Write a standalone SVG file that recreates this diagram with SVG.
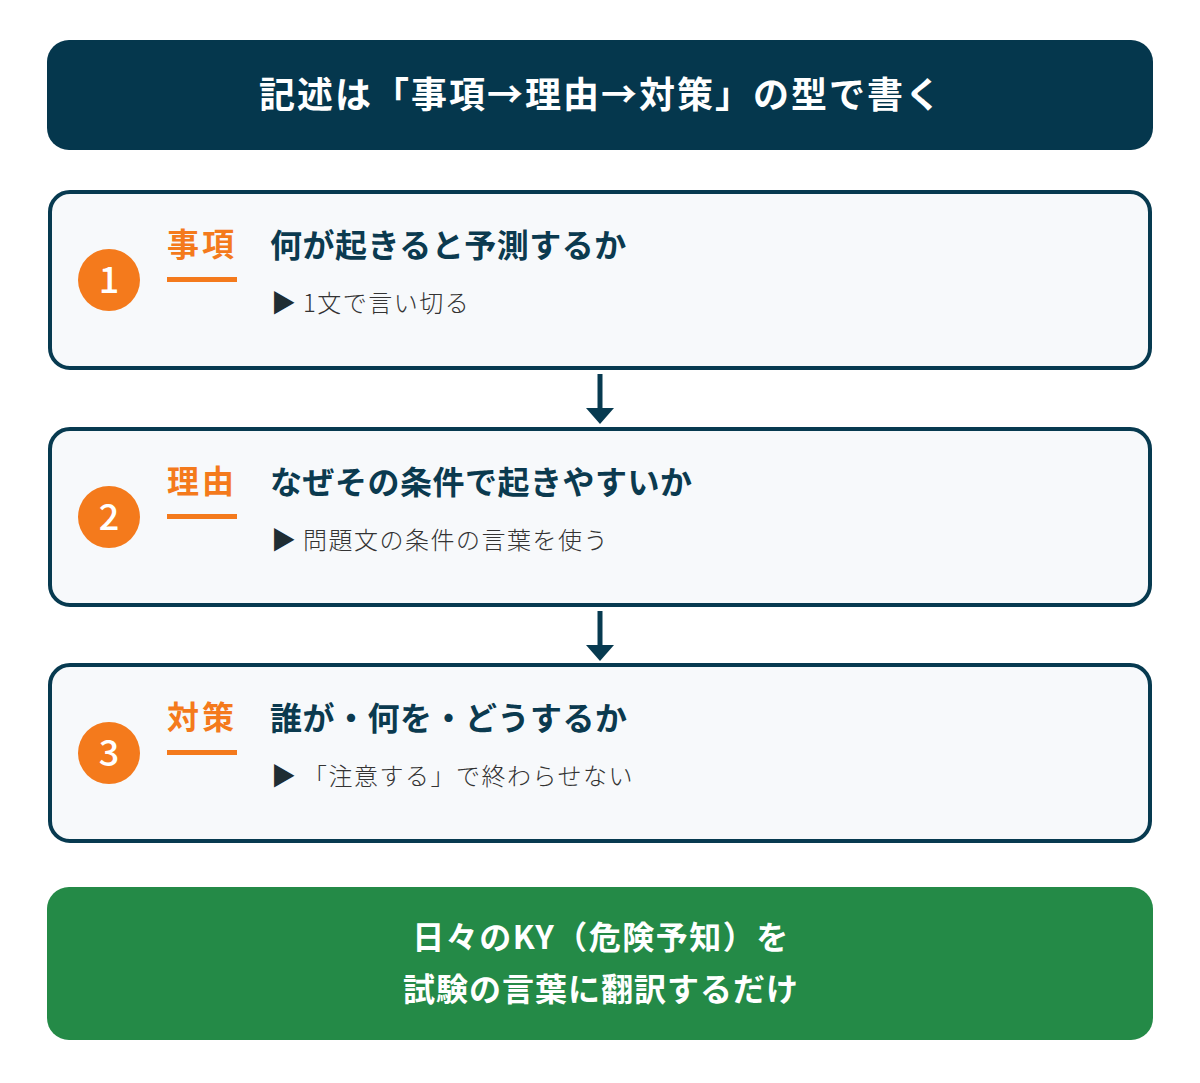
<svg xmlns="http://www.w3.org/2000/svg" width="1200" height="1083" viewBox="0 0 1200 1083">
<style>
text{font-family:"Noto Sans CJK JP","Noto Sans",sans-serif}
.card{fill:#f7f9fb;stroke:#073a50;stroke-width:4}
.num{fill:#f47a1c}
.numt{fill:#fff;font-size:36px;font-weight:500;text-anchor:middle}
.lab{fill:#f47a1c;font-size:32px;font-weight:700;letter-spacing:3px}
.ttl{fill:#0b3a4f;font-size:32px;font-weight:700;letter-spacing:0.5px}
.sub{fill:#333;font-size:24px;letter-spacing:1.5px;font-weight:300}
.tri{font-size:25px;fill:#1f2d33}
.wt{fill:#fff;font-weight:700;text-anchor:middle}
.ah{fill:#073a50}
</style>
<rect width="1200" height="1083" fill="#fff"/>
<g id="header">
<rect x="47" y="40" width="1106" height="110" rx="22" fill="#05374d"/>
<text class="wt" x="601" y="108" font-size="36" letter-spacing="2">記述は「事項→理由→対策」の型で書く</text>
</g>
<g id="step1">
<rect class="card" x="50" y="192" width="1100" height="176" rx="20"/>
<circle class="num" cx="109" cy="280" r="31"/>
<text class="numt" x="109" y="293">1</text>
<text class="lab" x="167" y="256">事項</text>
<rect x="167" y="277" width="70" height="5" fill="#f47a1c"/>
<text class="ttl" x="270" y="257">何が起きると予測するか</text>
<text class="sub" y="312"><tspan class="tri" x="271">▶</tspan><tspan x="303">1文で言い切る</tspan></text>
</g>
<g id="step2">
<rect class="card" x="50" y="429" width="1100" height="176" rx="20"/>
<circle class="num" cx="109" cy="517" r="31"/>
<text class="numt" x="109" y="530">2</text>
<text class="lab" x="167" y="493">理由</text>
<rect x="167" y="514" width="70" height="5" fill="#f47a1c"/>
<text class="ttl" x="270" y="494">なぜその条件で起きやすいか</text>
<text class="sub" y="549"><tspan class="tri" x="271">▶</tspan><tspan x="303">問題文の条件の言葉を使う</tspan></text>
</g>
<g id="step3">
<rect class="card" x="50" y="665" width="1100" height="176" rx="20"/>
<circle class="num" cx="109" cy="753" r="31"/>
<text class="numt" x="109" y="766">3</text>
<text class="lab" x="167" y="729">対策</text>
<rect x="167" y="750" width="70" height="5" fill="#f47a1c"/>
<text class="ttl" x="270" y="730">誰が・何を・どうするか</text>
<text class="sub" y="785"><tspan class="tri" x="271">▶</tspan><tspan x="303">「注意する」で終わらせない</tspan></text>
</g>
<g id="summary">
<rect x="47" y="887" width="1106" height="153" rx="22" fill="#248a47"/>
<text class="wt" x="601" y="949" font-size="32" letter-spacing="1.5">日々のKY（危険予知）を</text>
<text class="wt" x="601" y="1001" font-size="32" letter-spacing="1">試験の言葉に翻訳するだけ</text>
</g>
<g id="connectors">
<line x1="600" y1="374" x2="600" y2="410" stroke="#073a50" stroke-width="5"/>
<path class="ah" d="M586 408H614L600 424Z"/>
<line x1="600" y1="611" x2="600" y2="647" stroke="#073a50" stroke-width="5"/>
<path class="ah" d="M586 645H614L600 661Z"/>
</g>
</svg>
